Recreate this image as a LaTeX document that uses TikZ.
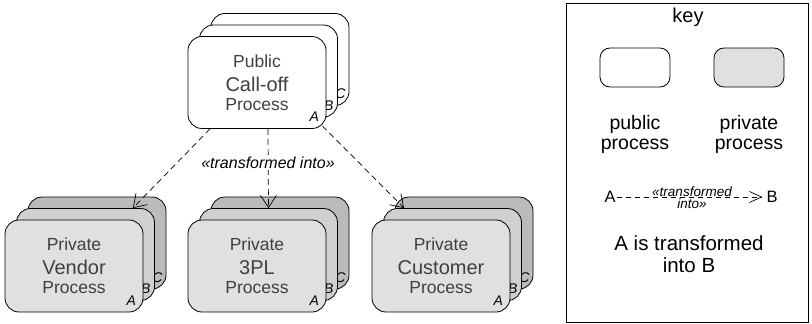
\documentclass[tikz,border=0pt]{standalone}
\usepackage{fontspec}
\setmainfont{Liberation Sans}
\usetikzlibrary{arrows.meta,calc}

\definecolor{labelgray}{HTML}{404040}
\definecolor{privfront}{HTML}{E0E0E0}
\definecolor{privmid}{HTML}{D0D0D0}
\definecolor{privback}{HTML}{BBBBBB}

% three stacked process boxes: back (C), middle (B), front (A),
% with a three-line title on the front box (middle line set larger)
\newcommand\stackthree[8]{%
  \node[#3] (#1C) at ($#2+(23,-23)$) {};
  \node[tag] at ($(#1C.south east)+(-9,-12)$) {C};
  \node[#4] (#1B) at ($#2+(11.5,-11.5)$) {};
  \node[tag] at ($(#1B.south east)+(-9,-12)$) {B};
  \node[#5] (#1A) at #2 {};
  \node[tag] at ($(#1A.south east)+(-12,-12)$) {A};
  \node[small line] (#1top) at ($(#1A.center)+(0,-15.5)$) {#6};
  \node[big line]   (#1mid) at ($(#1A.center)+(0,8.5)$) {#7};
  \node[small line] (#1bot) at ($(#1A.center)+(0,27.5)$) {#8};
}

\begin{document}
\begin{tikzpicture}[x=1pt,y=-1pt,
  proc/.style={draw=black, line width=0.8pt, rounded corners=14pt,
    minimum width=138pt, minimum height=92pt, inner sep=0pt},
  pub/.style={proc, fill=white},
  privA/.style={proc, fill=privfront},
  privB/.style={proc, fill=privmid},
  privC/.style={proc, fill=privback},
  small line/.style={anchor=base, inner sep=0pt, text=labelgray,
    font=\fontsize{17.5}{17.5}\selectfont},
  big line/.style={anchor=base, inner sep=0pt, text=labelgray,
    font=\fontsize{20}{20}\selectfont},
  tag/.style={font=\fontsize{14}{14}\selectfont\itshape, inner sep=0pt, text=black},
  transf/.style={draw=black, line width=0.7pt, dash pattern=on 6pt off 4pt,
    -{Straight Barb[length=12pt,width=16pt,line width=0.7pt]}},
  transfkey/.style={draw=black, line width=0.7pt, dash pattern=on 5pt off 4pt,
    -{Straight Barb[length=12pt,width=11pt,line width=0.7pt]}},
  keybox/.style={draw=black, line width=0.8pt, rounded corners=10pt,
    minimum width=70pt, minimum height=39pt, inner sep=0pt},
  keytext/.style={align=center, font=\fontsize{19.5}{20}\selectfont},
]
\useasboundingbox (0,0) rectangle (812,324);

% process stacks
\stackthree{pub}{(257,82.5)}{pub}{pub}{pub}{Public}{Call-off}{Process}
\stackthree{vend}{(74,266)}{privC}{privB}{privA}{Private}{Vendor}{Process}
\stackthree{tpl}{(257,266)}{privC}{privB}{privA}{Private}{3PL}{Process}
\stackthree{cust}{(441,266)}{privC}{privB}{privA}{Private}{Customer}{Process}

% transformation connectors
\draw[transf] ($(pubA.south)+(-47,0)$) -- ($(vendB.north east)+(-22,0)$);
\draw[transf] ($(pubA.south)+(11,0)$) -- (tplB.north);
\draw[transf] ($(pubA.south east)+(-4,-3)$) -- ($(custB.north west)+(21,0)$);
\node[fill=white, inner sep=1pt, font=\fontsize{16}{16}\selectfont\itshape]
  (tlabel) at (268,163) {«transformed into»};

% key
\node[draw=black, line width=0.8pt, minimum width=242pt, minimum height=319pt,
  inner sep=0pt] (key) at (687,162.5) {};
\node[anchor=base, font=\fontsize{20}{20}\selectfont] (keytitle) at (688,23) {key};
\node[keybox, fill=white] (kpub) at (635,67.5) {};
\node[keybox, fill=privfront] (kpriv) at (749,67.5) {};
\node[keytext] (kpubtxt) at (635,134) {public\\process};
\node[keytext] (kprivtxt) at (749,134) {private\\process};

\node[font=\fontsize{16.5}{16.5}\selectfont, inner sep=1pt] (ka) at (610,197) {A};
\node[font=\fontsize{16.5}{16.5}\selectfont, inner sep=1pt] (kb) at (772,197) {B};
\draw[transfkey] (ka) -- ($(kb.west)+(-3,0)$);
\node[fill=white, inner sep=0pt, anchor=base,
  font=\fontsize{13.5}{13.5}\selectfont\itshape] (klabel1) at (692,196) {«transformed};
\node[fill=white, inner sep=0pt, anchor=base,
  font=\fontsize{13.5}{13.5}\selectfont\itshape] (klabel2) at (692,208.5) {into»};

\node[keytext, font=\fontsize{20.5}{21.5}\selectfont] (kdesc) at (689,254)
  {A is transformed\\into B};
\end{tikzpicture}
\end{document}
